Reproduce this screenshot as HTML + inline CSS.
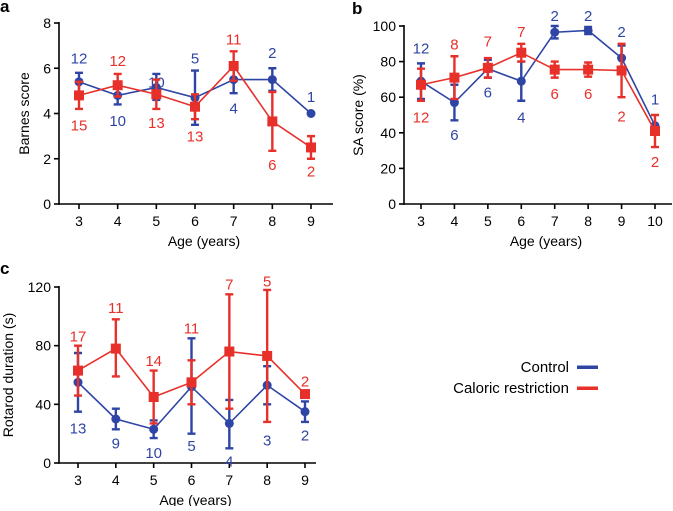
<!DOCTYPE html>
<html><head><meta charset="utf-8"><style>
body{margin:0;background:#fff;}
svg text{font-family:"Liberation Sans",Arial,sans-serif;}
</style></head><body>
<svg id="fig" width="673" height="506" viewBox="0 0 673 506" xmlns="http://www.w3.org/2000/svg">
<g id="legend">
<g><text x="569" y="372" font-size="15" text-anchor="end">Control</text><rect x="577" y="365.5" width="21" height="3.5" fill="#2e45a5"/></g>
<g><text x="569" y="393" font-size="15" text-anchor="end">Caloric restriction</text><rect x="577" y="386.5" width="21" height="3.5" fill="#e8302a"/></g>
</g>
</svg>
<script>
// Panel a
const aCats=[3,4,5,6,7,8,9];
const aCtrl=[5.4,4.8,5.15,4.7,5.5,5.5,4];
const aCtrlLo=[4.9,4.4,4.6,3.5,4.9,5,null];
const aCtrlHi=[5.8,5.2,5.75,5.9,6.1,6,null];
const aCtrlN=[12,10,10,5,4,2,1];
const aCtrlNY=[6.45,3.7,5.4,6.45,4.25,6.7,4.75];
const aCR=[4.8,5.25,4.85,4.3,6.1,3.65,2.5];
const aCRLo=[4.2,4.75,4.2,3.75,5.45,2.35,2];
const aCRHi=[5.4,5.75,5.5,4.85,6.75,4.95,3];
const aCRN=[15,12,13,13,11,6,2];
const aCRNY=[3.5,6.35,3.6,3.0,7.3,1.75,1.45];
const aTicks=[0,2,4,6,8];
// Panel b
const bCats=[3,4,5,6,7,8,9,10];
const bCtrl=[69,57,76,69,96.5,97.5,82,44];
const bCtrlLo=[59,47,71,58,93,95.5,75,null];
const bCtrlHi=[79,67,81,80,100,99.5,89,null];
const bCtrlN=[12,6,6,4,2,2,2,1];
const bCtrlNY=[87.6,39,63,49,106,106,97,59];
const bCR=[67,71,76.5,85,75.5,75.5,75,41];
const bCRLo=[58,59,71,80,71,71.5,60,32];
const bCRHi=[76,83,82,90,80,79.5,90,50];
const bCRN=[12,8,7,7,6,6,2,2];
const bCRNY=[49,90,91.6,97,62,62,49.4,24];
const bTicks=[0,20,40,60,80,100];
// Panel c
const cCats=[3,4,5,6,7,8,9];
const cCtrl=[55,30,23,52,27,53,35];
const cCtrlLo=[35,23,17,20,10,40,28];
const cCtrlHi=[75,37,29,85,43,66,42];
const cCtrlN=[13,9,10,5,4,3,2];
const cCtrlNY=[24,13.6,7,12,1.4,15.7,19];
const cCR=[63,78,45,55,76,73,47];
const cCRLo=[46,59,27,40,37,28,null];
const cCRHi=[80,98,63,70,115,118,null];
const cCRN=[17,11,14,11,7,5,2];
const cCRNY=[86.6,106,70,92,122,124,56];
const cTicks=[0,40,80,120];

const NS='http://www.w3.org/2000/svg';
const svg=document.getElementById('fig');
const BLUE='#2e45a5', RED='#e8302a';
function mk(tag,attrs,parent){const e=document.createElementNS(NS,tag);for(const k in attrs)e.setAttribute(k,attrs[k]);(parent||svg).appendChild(e);return e;}

function panel(cfg){
  const g=mk('g',{});
  
  
  const xs=v=>cfg.x0+(v-cfg.cats[0])*(cfg.x1-cfg.x0)/(cfg.cats[cfg.cats.length-1]-cfg.cats[0]);
  const ys=v=>cfg.yb-(v-cfg.ymin)*(cfg.yb-cfg.yt)/(cfg.ymax-cfg.ymin);
  const lt=mk('text',{x:cfg.lx,y:cfg.ly,'font-size':17,'font-weight':'bold'},g);lt.textContent=cfg.id;
  
  
  const ax=mk('g',{},g);
  
  
  mk('line',{x1:cfg.ax,y1:ys(cfg.ymax)-1,x2:cfg.ax,y2:cfg.yb+0.8,stroke:'#000','stroke-width':1.6},ax);
  cfg.ticks.forEach(t=>{mk('line',{x1:cfg.ax-5,y1:ys(t),x2:cfg.ax,y2:ys(t),stroke:'#000','stroke-width':1.6},ax);
    const tt=mk('text',{x:cfg.ax-8,y:ys(t)+5,'font-size':14,'text-anchor':'end'},ax);tt.textContent=t;
    
    });
  const yt=mk('text',{x:0,y:0,'font-size':14,'text-anchor':'middle',transform:`translate(${cfg.ytx},${(ys(cfg.ymax)+cfg.yb)/2}) rotate(-90)`},ax);yt.textContent=cfg.ytitle;
  
  
  const xa=mk('g',{},g);
  
  
  mk('line',{x1:cfg.ax-0.8,y1:cfg.yb,x2:cfg.xend,y2:cfg.yb,stroke:'#000','stroke-width':1.6},xa);
  cfg.cats.forEach(c=>{mk('line',{x1:xs(c),y1:cfg.yb,x2:xs(c),y2:cfg.yb+5,stroke:'#000','stroke-width':1.6},xa);
    const tt=mk('text',{x:xs(c),y:cfg.yb+22,'font-size':14,'text-anchor':'middle'},xa);tt.textContent=c;
    
    });
  const xt=mk('text',{x:(cfg.ax+cfg.xend)/2+8,y:cfg.yb+42,'font-size':14,'text-anchor':'middle'},xa);xt.textContent='Age (years)';
  
  
  cfg.series.forEach(s=>{
    const sg=mk('g',{},g);
    
    
    mk('polyline',{points:cfg.cats.map((c,i)=>xs(c)+','+ys(s.v[i])).join(' '),fill:'none',stroke:s.col,'stroke-width':1.6},sg);
    cfg.cats.forEach((c,i)=>{
      const x=xs(c);
      if(s.lo[i]!=null){
        const eb=mk('path',{d:`M${x},${ys(s.lo[i])}V${ys(s.hi[i])}M${x-4},${ys(s.lo[i])}H${x+4}M${x-4},${ys(s.hi[i])}H${x+4}`,stroke:s.col,'stroke-width':2.4,fill:'none'},sg);
        
        
      }
      let m;
      if(s.sq){m=mk('rect',{x:x-5,y:ys(s.v[i])-5,width:10,height:10,fill:s.col},sg);}
      else{m=mk('circle',{cx:x,cy:ys(s.v[i]),r:4.5,fill:s.col},sg);}
      
      
      const nt=mk('text',{x:x,y:ys(s.ny[i])+5.5,'font-size':15,'text-anchor':'middle',fill:s.col},sg);nt.textContent=s.n[i];
      
      
    });
  });
}
panel({id:'a',lx:0,ly:12,ax:59,x0:79,x1:311,xend:333,yt:23,yb:204,ymin:0,ymax:8,ticks:aTicks,cats:aCats,ytx:29,ytitle:'Barnes score',
 series:[{name:'control',col:BLUE,v:aCtrl,lo:aCtrlLo,hi:aCtrlHi,n:aCtrlN,ny:aCtrlNY},{name:'caloric-restriction',col:RED,sq:true,v:aCR,lo:aCRLo,hi:aCRHi,n:aCRN,ny:aCRNY}]});
panel({id:'b',lx:352,ly:14,ax:404,x0:421,x1:655,xend:672,yt:26,yb:204,ymin:0,ymax:100,ticks:bTicks,cats:bCats,ytx:363,ytitle:'SA score (%)',
 series:[{name:'control',col:BLUE,v:bCtrl,lo:bCtrlLo,hi:bCtrlHi,n:bCtrlN,ny:bCtrlNY},{name:'caloric-restriction',col:RED,sq:true,v:bCR,lo:bCRLo,hi:bCRHi,n:bCRN,ny:bCRNY}]});
panel({id:'c',lx:0,ly:274,ax:59,x0:78,x1:305,xend:316,yt:287,yb:463,ymin:0,ymax:120,ticks:cTicks,cats:cCats,ytx:13,ytitle:'Rotarod duration (s)',
 series:[{name:'control',col:BLUE,v:cCtrl,lo:cCtrlLo,hi:cCtrlHi,n:cCtrlN,ny:cCtrlNY},{name:'caloric-restriction',col:RED,sq:true,v:cCR,lo:cCRLo,hi:cCRHi,n:cCRN,ny:cCRNY}]});
</script>
</body></html>
